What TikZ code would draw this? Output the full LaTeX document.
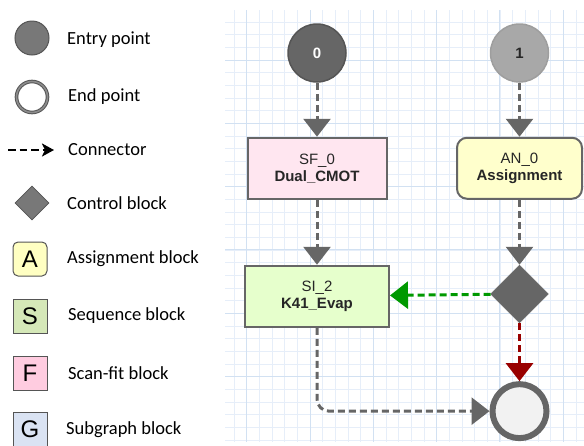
\documentclass[tikz,border=0pt]{standalone}
\usepackage{fontspec}
\setmainfont{Carlito}
\newfontfamily\arialfont{Liberation Sans}
\usetikzlibrary{positioning,shapes.geometric,arrows.meta}
\definecolor{blockgray}{HTML}{666666}
\definecolor{edgegray}{HTML}{555555}
\definecolor{lightgray}{HTML}{A8A8A8}
\definecolor{gridminor}{HTML}{E6EEF9}
\definecolor{gridmajor}{HTML}{D2E1F2}
\definecolor{fitpink}{HTML}{FFE6F0}
\definecolor{asgyellow}{HTML}{FFFFCC}
\definecolor{seqgreen}{HTML}{E6FFCC}
\definecolor{legyellow}{HTML}{FFFFC2}
\definecolor{leggreen}{HTML}{D5E8B8}
\definecolor{legpink}{HTML}{FFCCE0}
\definecolor{legblue}{HTML}{DAE3F3}
\definecolor{truegreen}{HTML}{009900}
\definecolor{falsered}{HTML}{990000}
\tikzset{entry node/.style={circle, fill=blockgray, draw=edgegray, line width=1.5pt, minimum size=58pt, inner sep=0pt, font=\arialfont\fontsize{15}{17}\selectfont\bfseries}, }
\tikzset{box node/.style={rectangle, draw=blockgray, line width=2pt, minimum height=61pt, inner sep=0pt, align=center, text=black!85, font=\arialfont\fontsize{15}{17}\selectfont}, }
\tikzset{control node/.style={diamond, aspect=1, fill=blockgray, draw=blockgray, minimum size=58pt, inner sep=0pt}, }
\tikzset{end node/.style={circle, fill=black!5, draw=blockgray, line width=6pt, minimum size=54pt, inner sep=0pt}, }
\tikzset{flow/.style={color=blockgray, line width=3pt, dash pattern=on 7pt off 4pt, -{Triangle[width=27pt,length=18pt]}}, }
\tikzset{legend text/.style={anchor=west, inner sep=0pt, font=\fontsize{18.5}{20}\selectfont}, }
\tikzset{legend box/.style={rectangle, draw=edgegray, line width=1pt, minimum size=34pt, inner sep=0pt, font=\arialfont\fontsize{24}{24}\selectfont}, }

\begin{document}
\begin{tikzpicture}[x=1pt,y=-1pt]
	\useasboundingbox (0,0) rectangle (584,445);
	% grid paper
	\foreach \i in {0,...,27}
		\draw[gridminor, line width=1pt] (234+\i*12.667,10) -- (234+\i*12.667,442);
	\foreach \i in {1,...,34}
		\draw[gridminor, line width=1pt] (225,9.33+\i*12.667) -- (584,9.33+\i*12.667);
	\foreach \i in {0,...,5}
		\draw[gridmajor, line width=1pt] (246.67+\i*63.33,10) -- (246.67+\i*63.33,442);
	\foreach \i in {0,...,5}
		\draw[gridmajor, line width=1pt] (225,60+\i*63.33) -- (584,60+\i*63.33);

	% legend
	\node[entry node, minimum size=34pt, fill=black!53, line width=1pt] (lentry) at (32,38) {};
	\node[legend text] (tentry) at (67,40) {Entry point};
	\node[circle, fill=white, draw=edgegray, line width=1pt, double=black!45, double distance=1.6pt, minimum size=31pt, inner sep=0pt] (lend) at (32,97) {};
	\node[legend text] (tend) at (68,97) {End point};
	\coordinate (lfrom) at (8,150);
	\coordinate (lto) at (54,150);
	\draw[line width=2.6pt, dash pattern=on 7.5pt off 4pt, -{Stealth[length=12pt,width=13pt,inset=3pt]}] (lfrom) -- (lto);
	\node[legend text] (tconn) at (68,150) {Connector};
	\node[control node, minimum size=34pt, fill=black!53, draw=edgegray, line width=0.8pt] (lctl) at (32,203) {};
	\node[legend text] (tctl) at (67,203) {Control block};
	\node[legend box, fill=legyellow, rounded corners=5pt] (lasg) at (30,259) {A};
	\node[legend text] (tasg) at (67,259) {Assignment block};
	\node[legend box, fill=leggreen] (lseq) at (30,316) {S};
	\node[legend text] (tseq) at (68,316) {Sequence block};
	\node[legend box, fill=legpink] (lfit) at (30,373) {F};
	\node[legend text] (tfit) at (68,373) {Scan-fit block};
	\node[legend box, fill=legblue] (lsub) at (30,429) {G};
	\node[legend text] (tsub) at (66,430) {Subgraph block};

	% graph
	\node[entry node, text=white] (e0) at (317,53) {0};
	\node[entry node, fill=lightgray, draw=black!38, text=black!85] (e1) [right = 143pt of e0] {1};
	\node[box node, fill=fitpink, minimum width=139pt] (sf0) [below = 54pt of e0] {SF\_0\\\textbf{Dual\_CMOT}};
	\node[box node, fill=asgyellow, minimum width=125pt, rounded corners=10pt] (an0) [below = 54pt of e1] {AN\_0\\\textbf{Assignment}};
	\node[box node, fill=seqgreen, minimum width=144pt] (si2) [below = 65pt of sf0] {SI\_2\\\textbf{K41\_Evap}};
	\node[control node] (ctl) [below = 65pt of an0] {};
	\node[end node] (end) [below = 58pt of ctl] {};
	\path[flow]
		(e0) edge (sf0)
		(sf0) edge (si2)
		(e1) edge (an0)
		(an0) edge (ctl)
		;
	\draw[flow, color=truegreen] (ctl) -- (si2);
	\draw[flow, color=falsered] (ctl) -- (end);
	\draw[flow, rounded corners=12pt] (si2) |- (end);
\end{tikzpicture}
\end{document}
